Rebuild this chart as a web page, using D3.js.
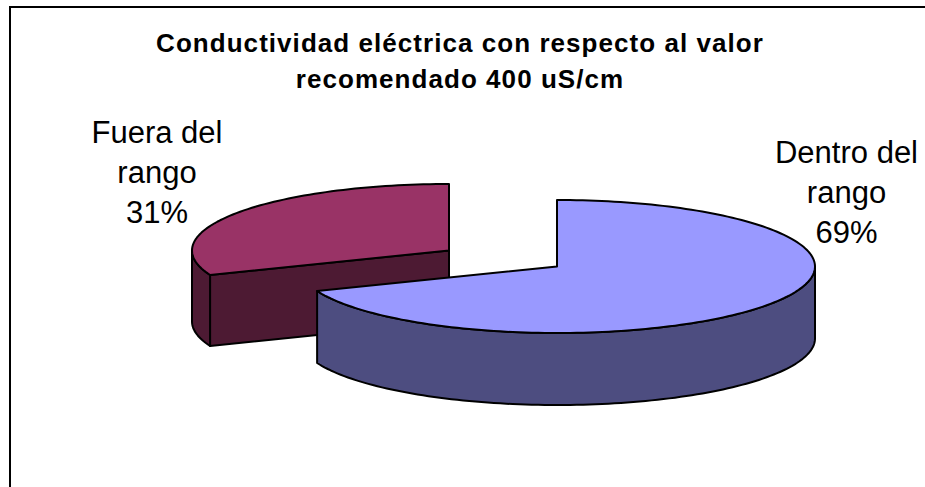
<!DOCTYPE html>
<html><head><meta charset="utf-8">
<script src="https://cdn.jsdelivr.net/npm/d3@7/dist/d3.min.js"></script>
<style>html,body{margin:0;padding:0;background:#fff;overflow:hidden}svg{display:block}text{font-family:"Liberation Sans",Arial,sans-serif;fill:#000}</style>
</head><body><script>
const categories = ["Dentro del rango", "Fuera del rango"];
const values = [69, 31];
const percentLabels = ["69%", "31%"];
const topColors = ["#9999ff", "#993366"];
const sideColors = ["#4d4d80", "#4d1a33"];
const titleLines = ["Conductividad eléctrica con respecto al valor", "recomendado 400 uS/cm"];

const W = 925, H = 487;
const svg = d3.select("body").append("svg").attr("width", W).attr("height", H);

svg.append("path").attr("d", `M10,${H}V7H${W}`).attr("fill", "none").attr("stroke", "#000").attr("stroke-width", 2);

svg.append("g").selectAll("text").data(titleLines).join("text")
  .attr("x", 460).attr("y", (d, i) => 52 + i * 36)
  .attr("text-anchor", "middle").attr("font-size", 26).attr("font-weight", "bold")
  .attr("letter-spacing", 1.05).text(d => d);

const pie = d3.pie().value(d => d).sort(null);
const arcs = pie(values);
const geom = [
  { cx: 557, cy: 266.5, rx: 258, ry: 66.5, depth: 72 },
  { cx: 449, cy: 250.5, rx: 257, ry: 66.5, depth: 71 }
];
const pt = (g, a, dy = 0) => [g.cx + g.rx * Math.sin(a), g.cy - g.ry * Math.cos(a) + dy];
const sweep = (g, a0, a1, dy = 0) => {
  const n = Math.max(2, Math.ceil(Math.abs(a1 - a0) * 40));
  return d3.range(n + 1).map(i => pt(g, a0 + (a1 - a0) * i / n, dy));
};
const line = d3.line();
const style = s => s.attr("stroke", "#000").attr("stroke-width", 2).attr("stroke-linejoin", "round");

[1, 0].forEach(i => {
  const g = geom[i], a = arcs[i], group = svg.append("g").attr("class", "slice");
  const vis0 = Math.max(a.startAngle, Math.PI / 2), vis1 = Math.min(a.endAngle, 3 * Math.PI / 2);
  if (i === 1) {
    const tip = pt(g, a.startAngle), c = [g.cx, g.cy];
    group.append("path").call(style).attr("fill", sideColors[i])
      .attr("d", line([c, tip, [tip[0], tip[1] + g.depth], [c[0], c[1] + g.depth]]) + "Z");
  }
  group.append("path").call(style).attr("fill", sideColors[i])
    .attr("d", line([...sweep(g, vis0, vis1), ...sweep(g, vis1, vis0, g.depth)]) + "Z");
  group.append("path").call(style).attr("fill", topColors[i])
    .attr("d", line([[g.cx, g.cy], ...sweep(g, a.startAngle, a.endAngle)]) + "Z");
});

const labelPos = [[846.5, [163, 203, 243]], [157, [143, 183, 223]]];
[0, 1].forEach(i => {
  const words = categories[i].split(" ");
  const lines = [words.slice(0, 2).join(" "), words[2], percentLabels[i]];
  svg.append("g").selectAll("text").data(lines).join("text")
    .attr("x", labelPos[i][0]).attr("y", (d, k) => labelPos[i][1][k])
    .attr("text-anchor", "middle").attr("font-size", 31).text(d => d);
});
</script></body></html>
